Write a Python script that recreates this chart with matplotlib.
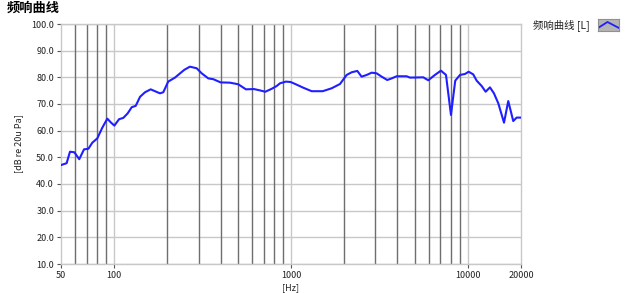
import matplotlib
matplotlib.use("Agg")
import matplotlib.pyplot as plt
from matplotlib.ticker import FixedLocator, NullFormatter

plt.rcParams['font.family'] = ['Noto Sans CJK SC', 'DejaVu Sans']

# frequency response
freq = [50, 53.8, 56.2, 59.5, 63.4, 67.5, 71.4, 75.2, 80.2, 85.6, 91.4, 96, 100.2,
        106.5, 112.6, 119.2, 125.6, 132.3, 140, 149.3, 160.8, 170, 181.5, 189.5,
        202, 220.6, 249, 268, 292.7, 312.5, 340.6, 363.5, 400, 451.6, 503, 556,
        617.5, 667.5, 715.5, 777.7, 830, 866, 936.7, 995, 1077, 1174, 1309, 1511,
        1699, 1893, 2065, 2204, 2372, 2508, 2680, 2860, 3052, 3257, 3503, 3710,
        3962, 4509, 4709, 5600, 5976, 6518, 7048, 7528, 7756, 8034, 8272, 8494,
        9034, 9640, 10116, 10735, 11230, 11980, 12620, 13350, 14060, 14880,
        16030, 16940, 18080, 18900, 20000]
level = [47.1, 47.8, 52.1, 51.9, 49.3, 53.0, 53.2, 55.5, 57.1, 61.1, 64.5, 63.0, 61.9,
         64.3, 64.8, 66.5, 68.8, 69.3, 72.7, 74.4, 75.5, 74.8, 74.0, 74.4,
         78.4, 79.9, 82.8, 84.0, 83.4, 81.5, 79.6, 79.3, 78.1, 78.0, 77.4, 75.5,
         75.6, 75.1, 74.6, 75.7, 76.75, 77.75, 78.4, 78.25, 77.25, 76.1, 74.8, 74.8,
         75.9, 77.5, 80.9, 81.9, 82.4, 80.25, 80.9, 81.75, 81.5, 80.25, 79.0, 79.6,
         80.4, 80.4, 79.9, 80.0, 78.9, 80.9, 82.5, 80.9, 74.0, 65.9, 72.75, 78.75,
         80.9, 81.25, 82.1, 81.1, 78.75, 76.75, 74.6, 76.25, 74.0, 70.25,
         63.0, 71.1, 63.6, 64.9, 64.9]

major_ticks = [50, 100, 1000, 10000, 20000]
minor_grid = [60, 70, 80, 90, 200, 300, 400, 500, 600, 700, 800, 900,
              2000, 3000, 4000, 5000, 6000, 7000, 8000, 9000]
y_ticks = [10, 20, 30, 40, 50, 60, 70, 80, 90, 100]

fig = plt.figure(figsize=(6.32, 2.93), dpi=100)
ax = fig.add_axes([61 / 632, 1 - 264 / 293, 460 / 632, 240 / 293])

ax.set_xscale('log')
ax.set_xlim(50, 20000)
ax.set_ylim(10, 100)

# grid
for y in y_ticks:
    ax.axhline(y, color='#c8c8c8', lw=1, zorder=1)
for x in [100, 1000, 10000]:
    ax.axvline(x, color='#c8c8c8', lw=1, zorder=1)
for x in minor_grid:
    ax.axvline(x, color='#6e6e6e', lw=1, zorder=1)

ax.plot(freq, level, color='#1f1fff', lw=1.5, zorder=3)

ax.xaxis.set_major_locator(FixedLocator(major_ticks))
ax.xaxis.set_minor_formatter(NullFormatter())
ax.xaxis.set_minor_locator(FixedLocator([]))
ax.set_xticklabels([str(t) for t in major_ticks])
ax.set_yticks(y_ticks)
ax.set_yticklabels([f"{t:.1f}" for t in y_ticks])
ax.tick_params(axis='both', labelsize=6.5, length=3, width=0.8, color='#555555',
               labelcolor='#222222', pad=2)

for s in ax.spines.values():
    s.set_color('#c8c8c8')
    s.set_linewidth(1)

ax.set_xlabel('[Hz]', fontsize=6.5, color='#222222', labelpad=2)
ax.set_ylabel('[dB re 20u Pa]', fontsize=6.5, color='#222222', labelpad=6)

fig.text(0.011, 0.972, '频响曲线', fontsize=9.5, fontweight='bold', va='center', ha='left')

# legend, outside on the right
fig.text(533 / 632, 1 - 25 / 293, '频响曲线 [L]', fontsize=7.5, va='center', ha='left',
         color='#222222')
icon = fig.add_axes([598 / 632, 1 - 31 / 293, 21 / 632, 12 / 293])
icon.set_facecolor('#b4b4b4')
icon.plot([0, 0.45, 1], [0.25, 0.75, 0.25], color='#1f1fff', lw=1.3)
icon.set_xlim(0, 1)
icon.set_ylim(0, 1)
icon.set_xticks([])
icon.set_yticks([])
for s in icon.spines.values():
    s.set_color('#909090')
    s.set_linewidth(0.8)

fig.savefig('out.png', dpi=100)
